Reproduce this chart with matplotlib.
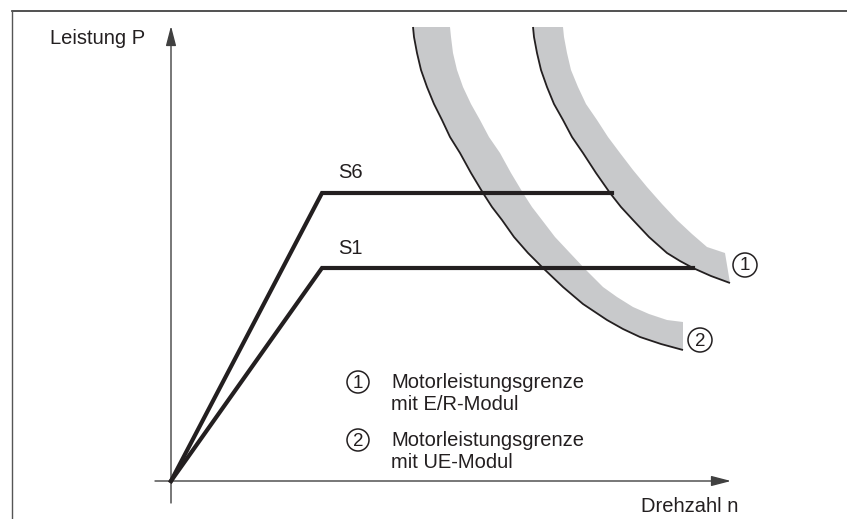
import matplotlib.pyplot as plt
from matplotlib.patches import Polygon, Circle

# coordinates: n = speed (to the right), P = power (up), origin at the axes crossing
# S1 / S6 characteristic (start, corner, end of constant-power section)
s6_n = [0, 151, 441]
s6_p = [0, 288, 288]
s1_n = [0, 151, 522]
s1_p = [0, 213, 213]

# limit curve 1 (E/R module): black edge and outer edge of the grey band
lim1_n = [362, 363, 366, 370, 376, 383, 392, 401, 412, 425, 439, 450, 462, 478, 496, 509, 522, 540, 559]
lim1_p = [454, 444, 428, 411, 394, 377, 361, 344, 328, 308, 288, 274, 261, 244, 228, 220, 213, 205, 198]
band1_n = [392, 393, 396, 400, 407, 415, 426, 437, 449, 462, 476, 491, 506, 521, 536, 554]
band1_p = [454, 444, 428, 411, 394, 377, 361, 344, 328, 311, 294, 277, 261, 247, 234, 228]

# limit curve 2 (UE module)
lim2_n = [242, 243, 246, 250, 256, 263, 271, 279, 289, 300, 312, 321, 331, 343, 357, 372, 392, 412, 436, 452, 469, 490, 512]
lim2_p = [454, 444, 428, 411, 394, 377, 361, 344, 328, 308, 288, 274, 261, 244, 228, 213, 194, 177, 161, 152, 144, 137, 131]
band2_n = [279, 280, 282, 286, 292, 300, 309, 318, 329, 340, 352, 361, 371, 384, 399, 415, 432, 446, 462, 478, 496, 512]
band2_p = [454, 444, 428, 411, 394, 377, 361, 344, 328, 308, 288, 274, 261, 244, 228, 211, 194, 184, 174, 167, 161, 159]

legend_lines = [("1", "Motorleistungsgrenze", "mit E/R-Modul"),
                ("2", "Motorleistungsgrenze", "mit UE-Modul")]

plt.rcParams['font.family'] = ['Liberation Sans', 'DejaVu Sans']

fig = plt.figure(figsize=(8.47, 5.19), dpi=100)
ax = fig.add_axes([0, 0, 1, 1])
ax.set_xlim(-171, 676)
ax.set_ylim(-38, 481)
ax.axis('off')

ink = '#231f20'
grey = '#c8c9cb'
axis_col = '#404040'
fs = 14.5

# frame (top and left edge)
ax.plot([-159, 676], [470, 470], color='#333333', lw=1.2)
ax.plot([-159, -159], [470, -38], color='#555555', lw=1.0)

# axes with arrow heads
arrow = dict(arrowstyle='-|>,head_length=1.0,head_width=0.26', color=axis_col,
             lw=1.0, mutation_scale=12, shrinkA=0, shrinkB=0)
ax.annotate('', xy=(560, 0), xytext=(-16, 0), arrowprops=arrow)
ax.annotate('', xy=(0, 455), xytext=(0, -22), arrowprops=arrow)

# grey bands + black edges of the limit curves
for ln, lp, bn, bp in [(lim1_n, lim1_p, band1_n, band1_p),
                       (lim2_n, lim2_p, band2_n, band2_p)]:
    pts = list(zip(ln, lp)) + list(zip(bn, bp))[::-1]
    ax.add_patch(Polygon(pts, closed=True, facecolor=grey, edgecolor='none', zorder=1))
    ax.plot(ln, lp, color=ink, lw=1.3, zorder=2, solid_capstyle='butt',
            solid_joinstyle='round')

# S1 / S6 curves
ax.plot(s6_n, s6_p, color=ink, lw=3.0, zorder=3, solid_joinstyle='miter')
ax.plot(s1_n, s1_p, color=ink, lw=3.0, zorder=3, solid_joinstyle='miter')
ax.text(179, 308, "S6", fontsize=fs, ha='center', va='center', color=ink)
ax.text(179, 233, "S1", fontsize=fs, ha='center', va='center', color=ink)


def circled(x, y, label, r=12):
    ax.add_patch(Circle((x, y), r, facecolor='white', edgecolor=ink, lw=1.1, zorder=4))
    ax.text(x, y - 1, label, fontsize=13.5, ha='center', va='center', color=ink, zorder=5)


circled(574, 216, "1")
circled(529, 141, "2")

# legend
for i, (num, l1, l2) in enumerate(legend_lines):
    y0 = 99 - i * 58
    circled(187, y0, num, r=11)
    ax.text(220, y0, l1, fontsize=fs, ha='left', va='center', color=ink)
    ax.text(220, y0 - 22, l2, fontsize=fs, ha='left', va='center', color=ink)

# axis titles
ax.text(-121, 443, "Leistung P", fontsize=fs, ha='left', va='center', color=ink)
ax.text(470, -26, "Drehzahl n", fontsize=fs, ha='left', va='center', color=ink)

fig.savefig("out.png", dpi=100)
